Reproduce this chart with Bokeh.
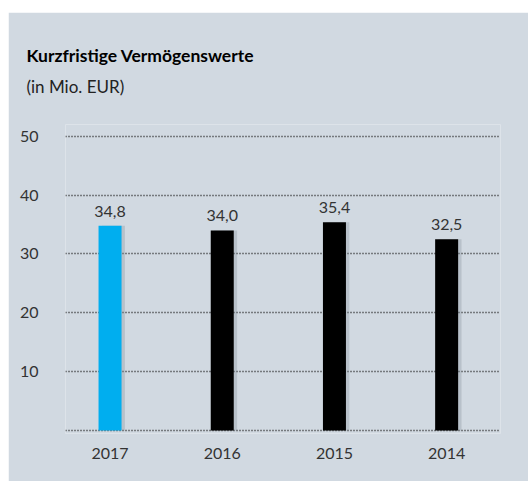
from bokeh.plotting import figure
from bokeh.models import Title, LabelSet, ColumnDataSource, FixedTicker, Range1d, Spacer
from bokeh.layouts import column, row
from bokeh.transform import dodge
from bokeh.core.properties import value
from bokeh.embed import file_html
from bokeh.resources import INLINE

title_text = "Kurzfristige Vermögenswerte"
subtitle_text = "(in Mio. EUR)"
years = ["2017", "2016", "2015", "2014"]
values = [34.8, 34.0, 35.4, 32.5]
value_labels = ["34,8", "34,0", "35,4", "32,5"]
bar_colors = ["#00aeef", "#000000", "#000000", "#000000"]
y_ticks = [0, 10, 20, 30, 40, 50]

BG = "#d1d9e1"
FONT = "Lato"

xs = list(range(len(years)))
src = ColumnDataSource(dict(x=xs, top=values, lab=value_labels, color=bar_colors))

p = figure(width=520, height=469, output_backend="svg", toolbar_location=None,
           x_range=Range1d(-0.397, 3.48), y_range=Range1d(-0.5, 52),
           min_border_left=57, min_border_right=28, min_border_top=112, min_border_bottom=48)
p.background_fill_color = BG
p.border_fill_color = BG
p.outline_line_color = None
p.title.visible = False

# shadow
p.vbar(x=dodge("x", 0.03, range=p.x_range), top="top", bottom=0, width=0.205, source=src,
       fill_color="#7d8a96", fill_alpha=0.3, line_color=None)
p.vbar(x="x", top="top", bottom=0, width=0.205, source=src, fill_color="color", line_color=None)

p.add_layout(LabelSet(x="x", y="top", text="lab", source=src, y_offset=9,
                      text_align="center", text_baseline="alphabetic",
                      text_font=value(FONT), text_font_size="16px", text_color="#333333"))

p.xgrid.grid_line_color = None
p.ygrid.ticker = FixedTicker(ticks=y_ticks)
p.ygrid.grid_line_color = "#1a1a1a"
p.ygrid.grid_line_dash = "1 2"
p.ygrid.grid_line_width = 1.5
p.ygrid.level = "underlay"

p.yaxis.ticker = FixedTicker(ticks=y_ticks[1:])
p.yaxis.axis_line_color = None
p.yaxis.major_tick_line_color = None
p.yaxis.minor_tick_line_color = None
p.yaxis.major_label_standoff = 21
p.yaxis.major_label_text_font = FONT
p.yaxis.major_label_text_font_size = "16px"
p.yaxis.major_label_text_color = "#333333"

p.xaxis.ticker = FixedTicker(ticks=xs)
p.xaxis.major_label_overrides = {i: y for i, y in zip(xs, years)}
p.xaxis.axis_line_color = None
p.xaxis.major_tick_line_color = None
p.xaxis.minor_tick_line_color = None
p.xaxis.major_label_standoff = 8
p.xaxis.major_label_text_font = FONT
p.xaxis.major_label_text_font_size = "16px"
p.xaxis.major_label_text_color = "#333333"

p.add_layout(Title(text=subtitle_text, align="left", offset=-39, standoff=56,
                   text_font=FONT, text_font_style="normal", text_font_size="17px",
                   text_color="#222222"), "above")
p.add_layout(Title(text=title_text, align="left", offset=-39, standoff=-40,
                   text_font=FONT, text_font_style="bold", text_font_size="17.5px",
                   text_color="#000000"), "above")

layout = column(Spacer(height=12, width=528),
                row(Spacer(width=8, height=469), p, spacing=0), spacing=0)
open("out.html", "w").write(file_html(layout, INLINE))
